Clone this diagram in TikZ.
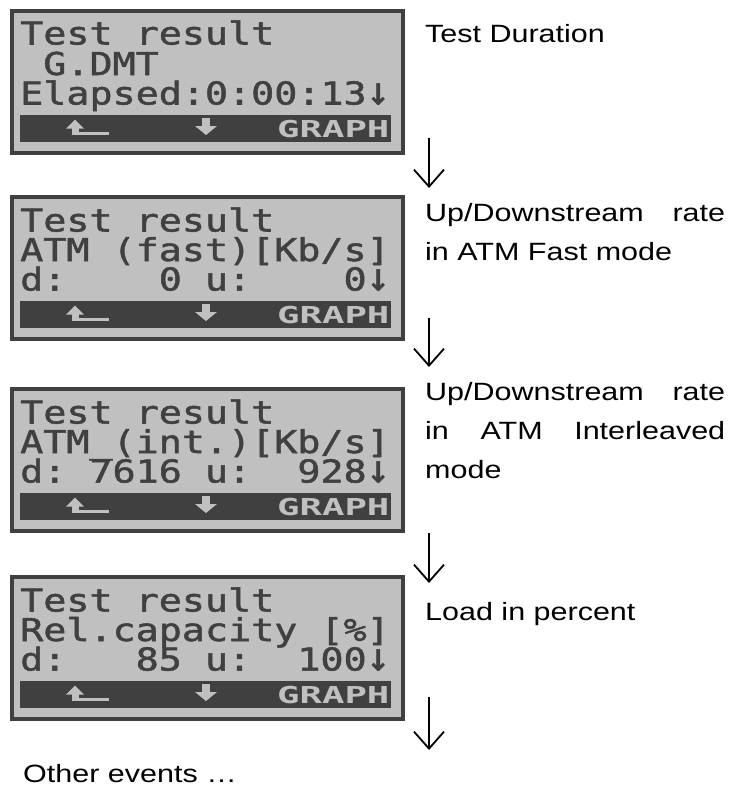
\documentclass[tikz,border=0pt]{standalone}
\usepackage{fontspec}
\setmainfont[FakeStretch=1.22]{Liberation Sans}
\newfontfamily\lcdfont[FakeStretch=1.218,FakeBold=1.6]{DejaVu Sans Mono}
\newfontfamily\lcdkeyfont[FakeStretch=1.6]{DejaVu Sans Mono}
\usepackage{tikz}
\usetikzlibrary{arrows.meta,positioning}
\definecolor{lcdback}{HTML}{C0C0C0}
\definecolor{lcdink}{HTML}{404040}
\newcommand{\lcddown}{\smash{\scalebox{1}[1.25]{↓}}}

\tikzset{
  lcdbox/.style={draw=lcdink,line width=4pt,fill=lcdback,inner sep=0pt,
    minimum width=391pt,minimum height=142pt,anchor=north west},
  lcdline/.style={anchor=base west,inner sep=0pt,text=lcdink,
    font=\lcdfont\fontsize{31.5}{31.5}\selectfont},
  keylabel/.style={anchor=base west,inner sep=0pt,text=lcdback,
    font=\lcdkeyfont\bfseries\fontsize{23.3}{23.3}\selectfont},
  desc/.style={anchor=base west,inner sep=0pt,font=\fontsize{25}{30}\selectfont},
  flow/.style={line width=1.8pt,-{Straight Barb[length=17pt,width=30pt]}},
}

\begin{document}
\begin{tikzpicture}[x=1pt,y=-1pt]
  \useasboundingbox (0,0) rectangle (744,787);
  % the four displays: frame, key bar, key symbols
  \foreach \t [count=\i] in {7,193,385,573} {
    \node[lcdbox] (lcd\i) at (10,\t+2) {};
    \fill[lcdink] (20,\t+108) rectangle (391,\t+134.5);
    \fill[lcdback] (66,\t+121.5) -- (75,\t+112.5) -- (84,\t+121.5) -- cycle;
    \fill[lcdback] (71.5,\t+121) rectangle (78.5,\t+128);
    \fill[lcdback] (71.5,\t+124.5) rectangle (108.5,\t+128);
    \fill[lcdback] (202,\t+111) rectangle (210,\t+119);
    \fill[lcdback] (195,\t+119) -- (217,\t+119) -- (206,\t+128) -- cycle;
    \node[keylabel] (key\i) at (277,\t+130) {GRAPH};
  }
  \node[lcdline] (d1a) at (20,44.5) {Test~result};
  \node[lcdline] (d1b) at (20,75) {~G.DMT};
  \node[lcdline] (d1c) at (20,104.5) {Elapsed:0:00:13\lcddown};
  \node[lcdline] (d2a) at (20,231.5) {Test~result};
  \node[lcdline] (d2b) at (20,261) {ATM~(fast)[Kb/s]};
  \node[lcdline] (d2c) at (20,290.5) {d:~~~~0~u:~~~~0\lcddown};
  \node[lcdline] (d3a) at (20,423.5) {Test~result};
  \node[lcdline] (d3b) at (20,453) {ATM\_(int.)[Kb/s]};
  \node[lcdline] (d3c) at (20,482.5) {d:~7616~u:~~928\lcddown};
  \node[lcdline] (d4a) at (20,611.5) {Test~result};
  \node[lcdline] (d4b) at (20,641) {Rel.capacity~[\%]};
  \node[lcdline] (d4c) at (20,670.5) {d:~~~85~u:~~100\lcddown};

  % explanations
  \node[desc] (txt1) at (425,42) {Test Duration};
  \node[desc] (txt2a) at (425,221.7) {\makebox[300pt][s]{Up/Downstream rate}};
  \node[desc] (txt2b) at (425,260) {in ATM Fast mode};
  \node[desc] (txt3a) at (425,400) {\makebox[300pt][s]{Up/Downstream rate}};
  \node[desc] (txt3b) at (425,439) {\makebox[300pt][s]{in ATM Interleaved}};
  \node[desc] (txt3c) at (425,478) {mode};
  \node[desc] (txt4) at (425,620.7) {Load in percent};
  \node[desc] (txt5) at (23,782.7) {Other events …};

  \coordinate (s1) at (429,138);  \coordinate (e1) at (429,188);
  \coordinate (s2) at (429,318);  \coordinate (e2) at (429,367);
  \coordinate (s3) at (429,533);  \coordinate (e3) at (429,583);
  \coordinate (s4) at (429,697);  \coordinate (e4) at (429,750);
  \foreach \i in {1,...,4} {\draw[flow] (s\i) -- (e\i);}
\end{tikzpicture}
\end{document}
